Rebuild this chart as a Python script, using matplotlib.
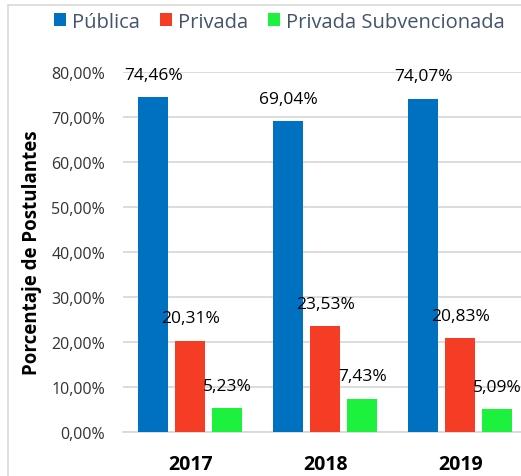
import numpy as np
import matplotlib.pyplot as plt
from matplotlib.patches import Rectangle

plt.rcParams.update({'font.family': ['Open Sans', 'DejaVu Sans']})

years = ['2017', '2018', '2019']
series = ['Pública', 'Privada', 'Privada Subvencionada']
publica = [74.46, 69.04, 74.07]
privada = [20.31, 23.53, 20.83]
subvencionada = [5.23, 7.43, 5.09]
colors = ['#0070C0', '#F53C24', '#1CF23D']

fig = plt.figure(figsize=(5.21, 4.77), dpi=100)
ax = fig.add_axes([0.236, 0.0922, 0.777, 0.7547])

# light frame around the chart
fig.patches.append(Rectangle((8 / 521, -0.1), 1.2, (477 - 6) / 477 + 0.1,
                             transform=fig.transFigure, fill=False,
                             edgecolor='#D9D9D9', linewidth=1.2))

x = np.arange(len(years))
width = 0.222
step = 0.274
for i, (vals, name) in enumerate(zip([publica, privada, subvencionada], series)):
    pos = x + (i - 1) * step
    ax.bar(pos, vals, width, color=colors[i], label=name, zorder=3)
    for p, v in zip(pos, vals):
        ax.annotate('{:.2f}%'.format(v).replace('.', ','), (p, v),
                    xytext=(0, 16), textcoords='offset points',
                    ha='center', va='center', fontsize=12.5, color='black')

ax.set_xlim(-0.5, 2.5)
ax.set_ylim(0, 80)
ax.set_yticks(np.arange(0, 81, 10))
ax.set_yticklabels(['{:.2f}%'.format(t).replace('.', ',') for t in np.arange(0, 81, 10)],
                   fontsize=11.5, color='#333333')
ax.set_xticks(x)
ax.set_xticklabels(years, fontsize=14, fontweight='bold')
ax.tick_params(axis='x', length=0, pad=16)
ax.tick_params(axis='y', length=0, pad=13)
ax.grid(axis='y', color='#D9D9D9', linewidth=1.3, zorder=0)
for s in ['top', 'right', 'left']:
    ax.spines[s].set_visible(False)
ax.spines['bottom'].set_color('#D9D9D9')
ax.spines['bottom'].set_linewidth(1.3)

ax.set_ylabel('Porcentaje de Postulantes', fontsize=13.5, fontweight='bold')
ax.yaxis.set_label_coords(-0.2, 0.5)

leg = fig.legend(loc='center', bbox_to_anchor=(0.536, 0.952), ncol=3, frameon=False,
                 fontsize=14.5, handlelength=0.6, handleheight=0.6,
                 handletextpad=0.3, columnspacing=1.0)
for t in leg.get_texts():
    t.set_color('#44546A')

fig.savefig('out.png', dpi=100)
